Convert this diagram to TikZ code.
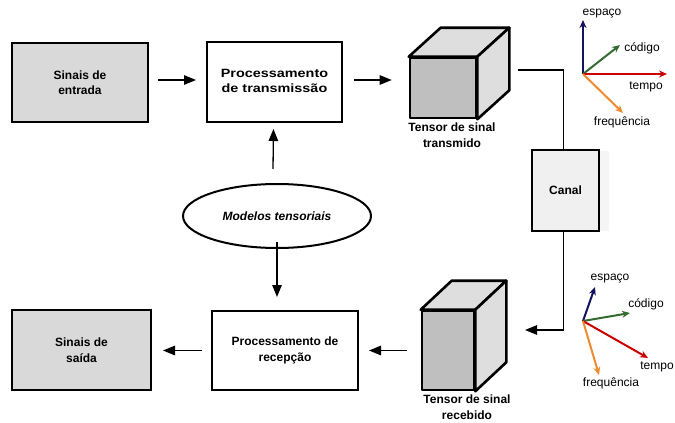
\documentclass[tikz,border=0pt]{standalone}
\usepackage{fontspec}
\setmainfont{Liberation Sans}
\usetikzlibrary{arrows.meta,shapes.geometric,calc}
\definecolor{boxgray}{HTML}{D9D9D9}
\definecolor{frontgray}{HTML}{BFBFBF}
\definecolor{sidegray}{HTML}{DEDEDE}
\definecolor{canalgray}{HTML}{F0F0F0}
\definecolor{axnavy}{HTML}{12125E}
\definecolor{axgreen}{HTML}{336B33}
\definecolor{axred}{HTML}{CC0000}
\definecolor{axorange}{HTML}{F08A30}
\tikzset{
  blk/.style={draw, line width=2pt, align=center, inner sep=0pt,
    font=\bfseries\fontsize{12}{15.5}\selectfont},
  face/.style={draw, line width=2.6pt, line join=round},
  arr/.style={line width=1.3pt, -{Triangle[length=12pt,width=9.5pt]}},
  wire/.style={line width=1.2pt},
  ax/.style={line width=2pt, -{Stealth[length=8pt,width=7pt]}},
  axlab/.style={font=\fontsize{12}{14}\selectfont, inner sep=0pt},
  cubelabel/.style={align=center, inner sep=0pt, font=\bfseries\fontsize{12}{15.5}\selectfont}
}
\begin{document}
\begin{tikzpicture}[x=1pt,y=-1pt]
\useasboundingbox (0,0) rectangle (675,423);
% boxes
\node[blk, fill=boxgray, minimum width=136pt, minimum height=79pt] (in) at (80,82.5) {Sinais de\\entrada};
\node[blk, fill=white, minimum width=135pt, minimum height=80pt] (pt) at (274.5,82) {\scalebox{1.2}[1]{\begin{tabular}{@{}c@{}}Processamento\\de transmissão\end{tabular}}};
\node[blk, fill=white, minimum width=146pt, minimum height=79pt] (pr) at (285,350.5) {Processamento de\\recepção};
\node[blk, fill=boxgray, minimum width=139pt, minimum height=80pt] (so) at (81.5,350) {Sinais de\\saída};
% canal
\fill[canalgray!70] (600,151) rectangle (609,231);
\node[blk, line width=1.3pt, fill=canalgray, minimum width=67pt, minimum height=81pt] (ca) at (565.5,190.5) {Canal};
% ellipse
\node[ellipse, draw, line width=2pt, minimum width=188pt, minimum height=64pt, inner sep=0pt,
  font=\bfseries\itshape\fontsize{12}{15.5}\selectfont] (el) at (277,216) {Modelos tensoriais};
% top cube
\node[rectangle, face, fill=frontgray, minimum width=66pt, minimum height=60pt, inner sep=0pt] (tc) at (443,88) {};
\draw[face, fill=sidegray] (tc.north west) -- ++(32,-29) -- ($(tc.north east)+(32,-29)$) -- (tc.north east) -- cycle;
\draw[face, fill=sidegray] (tc.north east) -- ++(32,-29) -- ($(tc.south east)+(32,-29)$) -- (tc.south east) -- cycle;
\node[cubelabel] (tcl) at (452,135) {Tensor de sinal\\transmido};
% bottom cube
\node[rectangle, face, fill=frontgray, minimum width=52pt, minimum height=79pt, inner sep=0pt] (bc) at (448,350.5) {};
\draw[face, fill=sidegray] (bc.north west) -- ++(31,-29) -- ($(bc.north east)+(31,-29)$) -- (bc.north east) -- cycle;
\draw[face, fill=sidegray] (bc.north east) -- ++(31,-29) -- ($(bc.south east)+(31,-29)$) -- (bc.south east) -- cycle;
\node[cubelabel] (bcl) at (467,407) {Tensor de sinal\\recebido};
% connectors
\draw[arr] ([shift={(9,-2.5)}]in.east) -- ([shift={(-10,-2)}]pt.west);
\draw[arr] ([shift={(11,-2)}]pt.east) -- ([shift={(-17,-8)}]tc.west);
\draw[arr] ([shift={(-4,-14)}]el.north) -- ([shift={(-1,6)}]pt.south);
\draw[arr] ([yshift=7]el.south) -- ([shift={(-8,-13)}]pr.north);
\draw[arr] ([xshift=-14]bc.west) -- ([xshift=10]pr.east);
\draw[arr] ([xshift=-9]pr.west) -- ([shift={(11,0.5)}]so.east);
\coordinate (w1) at (518,70);
\coordinate (w2) at (525,330);
\draw[wire] (w1) -| ([xshift=-2]ca.north);
\draw[wire, -{Triangle[length=12pt,width=9.5pt]}] ([xshift=-2]ca.south) |- (w2);
% top axes
\coordinate (o1) at (583,74);
\coordinate (e1) at (583,20);
\coordinate (c1) at (620,45);
\coordinate (t1) at (667,74);
\coordinate (f1) at (623,113);
\draw[ax, axnavy] (o1) -- (e1);
\draw[ax, axgreen] (o1) -- (c1);
\draw[ax, axred] (o1) -- (t1);
\draw[ax, axorange] (o1) -- (f1);
\node[axlab] (le1) at (602,14) {espaço};
\node[axlab] (lc1) at (642,48) {código};
\node[axlab] (lt1) at (646,87) {tempo};
\node[axlab] (lf1) at (622,122) {frequência};
% bottom axes
\coordinate (o2) at (583,321);
\coordinate (e2) at (595,287);
\coordinate (c2) at (630,313);
\coordinate (t2) at (648,358);
\coordinate (f2) at (599,375);
\draw[ax, axnavy] (o2) -- (e2);
\draw[ax, axgreen] (o2) -- (c2);
\draw[ax, axred] (o2) -- (t2);
\draw[ax, axorange] (o2) -- (f2);
\node[axlab] (le2) at (610,279) {espaço};
\node[axlab] (lc2) at (646,304) {código};
\node[axlab] (lt2) at (657,367) {tempo};
\node[axlab] (lf2) at (611,383) {frequência};
\end{tikzpicture}
\end{document}
